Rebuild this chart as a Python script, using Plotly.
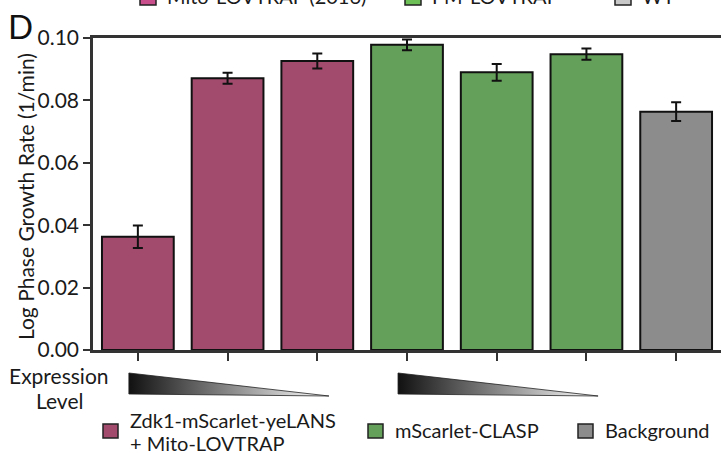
import plotly.graph_objects as go

# ---------------- data ----------------
categories = ["Mito 1", "Mito 2", "Mito 3", "CLASP 1", "CLASP 2", "CLASP 3", "Background"]
growth_rate = [0.0363, 0.0871, 0.0926, 0.0978, 0.0890, 0.0948, 0.0764]
growth_err = [0.0036, 0.0018, 0.0024, 0.0017, 0.0027, 0.0018, 0.0030]
groups = ["mito", "mito", "mito", "clasp", "clasp", "clasp", "bg"]
group_colors = {"mito": "#A24B6C", "clasp": "#64A05A", "bg": "#8C8C8C"}
legend_labels = [["Zdk1-mScarlet-yeLANS", "+ Mito-LOVTRAP"], ["mScarlet-CLASP"], ["Background"]]
top_legend_labels = ["Mito-LOVTRAP (2016)", "PM-LOVTRAP", "WT"]
top_legend_colors = ["#C94F8C", "#6CC055", "#C8C8C8"]
y_ticks = [0.00, 0.02, 0.04, 0.06, 0.08, 0.10]
y_tick_labels = ["0.00", "0.02", "0.04", "0.06", "0.08", "0.10"]
y_title = "Log Phase Growth Rate (1/min)"

W, H = 722, 454
L, R, T, B = 93, 1, 38, 0
PW, PH = W - L - R, H - T - B
AX_BOTTOM = 350  # pixel y of x-axis

def px(x):
    return (x - L) / PW

def py(y):
    return (H - B - y) / PH

FONT = "Lato"
FS = 20
xs = list(range(len(categories)))

fig = go.Figure()
fig.add_trace(go.Bar(
    x=xs, y=growth_rate,
    marker=dict(color=[group_colors[g] for g in groups], line=dict(color="#111111", width=2)),
    width=0.8,
    error_y=dict(type="data", array=growth_err, visible=True, color="#111111", thickness=2, width=5),
    showlegend=False, hoverinfo="skip",
))

# expression level gradient wedges (under each group of 3)
for start in (0, 3):
    x0, x1 = start - 0.1, start + 2.13
    fig.add_trace(go.Scatter(
        x=[x0, x0, x1, x0], y=[373, 394, 396, 373],
        xaxis="x", yaxis="y2", mode="lines", fill="toself",
        line=dict(color="#222222", width=0.8),
        fillgradient=dict(type="horizontal", colorscale=[[0, "#111111"], [0.5, "#888888"], [1, "#ffffff"]]),
        showlegend=False, hoverinfo="skip",
    ))

fig.update_layout(
    width=W, height=H,
    margin=dict(l=L, r=R, t=T, b=B, autoexpand=False),
    plot_bgcolor="white", paper_bgcolor="white",
    font=dict(family=FONT, size=FS, color="#1a1a1a"),
    xaxis=dict(
        range=[-0.5, len(categories) - 0.5],
        tickmode="array", tickvals=xs, ticktext=[""] * len(xs),
        ticks="outside", ticklen=8, tickwidth=2, tickcolor="#333333",
        showline=True, linecolor="#333333", linewidth=2.5, mirror=True,
        showgrid=False, zeroline=False, anchor="y", automargin=False,
    ),
    yaxis=dict(
        domain=[py(AX_BOTTOM), 1],
        range=[0, 0.1],
        tickmode="array", tickvals=y_ticks, ticktext=y_tick_labels,
        ticks="outside", ticklen=7, tickwidth=2, tickcolor="#333333",
        showline=True, linecolor="#333333", linewidth=2.5,
        showgrid=False, zeroline=False, automargin=False,
        tickfont=dict(size=21),
    ),
    yaxis2=dict(domain=[0, py(AX_BOTTOM)], range=[H, AX_BOTTOM], visible=False, anchor="x", automargin=False),
)

shapes = []
ann = []

# y-axis title
ann.append(dict(text=y_title, x=px(25), y=py(197), xref="paper", yref="paper", showarrow=False,
                textangle=-90, font=dict(size=21), xanchor="center", yanchor="middle"))

# panel label
ann.append(dict(text="D", x=px(20), y=py(26), xref="paper", yref="paper", showarrow=False,
                font=dict(size=33, color="#111111"), xanchor="center", yanchor="middle"))

# expression level label
for line, yc in (("Expression", 375), ("Level", 400)):
    ann.append(dict(text=line, x=px(59), y=py(yc), xref="paper", yref="paper",
                    showarrow=False, font=dict(size=21), xanchor="center", yanchor="middle"))

# bottom legend
leg_sq_x = [103, 368, 578]
leg_txt_y = [[420, 443], [430], [430]]
for i, g in enumerate(["mito", "clasp", "bg"]):
    x0 = leg_sq_x[i]
    shapes.append(dict(type="rect", xref="paper", yref="paper",
                       x0=px(x0), x1=px(x0 + 15), y0=py(438), y1=py(424),
                       fillcolor=group_colors[g], line=dict(color="#222222", width=1.5)))
    for line, yc in zip(legend_labels[i], leg_txt_y[i]):
        ann.append(dict(text=line, x=px(x0 + 25), y=py(yc), xref="paper", yref="paper",
                        showarrow=False, xanchor="left", yanchor="middle", font=dict(size=FS)))

# top (cut-off) legend
top_sq_x = [140, 405, 615]
for i in range(3):
    x0 = top_sq_x[i]
    shapes.append(dict(type="rect", xref="paper", yref="paper",
                       x0=px(x0), x1=px(x0 + 16), y0=py(5), y1=py(-11),
                       fillcolor=top_legend_colors[i], line=dict(color="#222222", width=1.5)))
    ann.append(dict(text=top_legend_labels[i], x=px(x0 + 25), y=py(-4), xref="paper", yref="paper",
                    showarrow=False, xanchor="left", yanchor="middle", font=dict(size=FS)))

fig.update_layout(shapes=shapes, annotations=ann)
fig.write_html("out.html")
